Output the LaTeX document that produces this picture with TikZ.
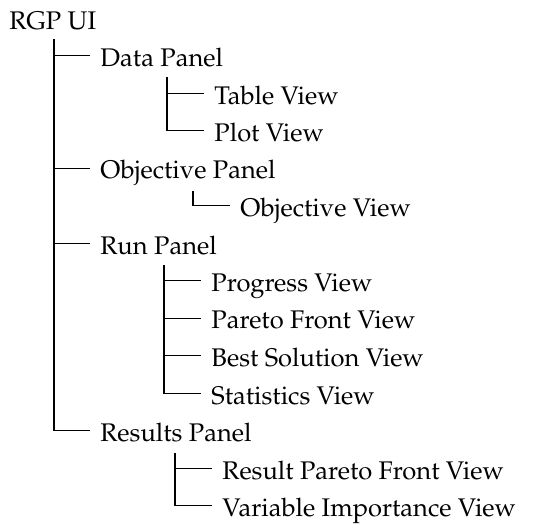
\documentclass[tikz,border=0pt]{standalone}
\usepackage[T1]{fontenc}
\usepackage{mathpazo}
\usepackage{tikz}
\tikzstyle{entry} = [anchor=base west, inner xsep=3.9pt, inner ysep=0pt, text height=0.85em, text depth=0pt, font=\fontsize{10}{12}\selectfont]
\tikzstyle{branch} = [line width=0.4pt, draw=black]

\begin{document}
\begin{tikzpicture}[x=0.392pt, y=-0.392pt]
    \useasboundingbox (0,0) rectangle (539,525);
    \node (Root) [entry] at (-1,29) {RGP UI};
    \node (DataPanel) [entry] at (90,66.5) {Data Panel};
    \node (TableView) [entry] at (204,104) {Table View};
    \node (PlotView) [entry] at (204,141.5) {Plot View};
    \node (ObjectivePanel) [entry] at (90,179) {Objective Panel};
    \node (ObjectiveView) [entry] at (230,216.5) {Objective View};
    \node (RunPanel) [entry] at (90,254) {Run Panel};
    \node (ProgressView) [entry] at (201,291.5) {Progress View};
    \node (ParetoFrontView) [entry] at (201,329) {Pareto Front View};
    \node (BestSolutionView) [entry] at (201,366.5) {Best Solution View};
    \node (StatisticsView) [entry] at (201,404) {Statistics View};
    \node (ResultsPanel) [entry] at (90,441.5) {Results Panel};
    \node (ResultParetoView) [entry] at (212,479) {Result Pareto Front View};
    \node (ImportanceView) [entry] at (212,516.5) {Variable Importance View};
    \coordinate (TrunkRoot) at (54,39);
    \coordinate (TrunkData) at (167,77);
    \coordinate (TrunkObjective) at (193,191);
    \coordinate (TrunkRun) at (164,265);
    \coordinate (TrunkResults) at (175,453);
    \draw [branch] (TrunkRoot) |- (DataPanel.west);
    \draw [branch] (TrunkRoot) |- (ObjectivePanel.west);
    \draw [branch] (TrunkRoot) |- (RunPanel.west);
    \draw [branch] (TrunkRoot) |- (ResultsPanel.west);
    \draw [branch] (TrunkData) |- (TableView.west);
    \draw [branch] (TrunkData) |- (PlotView.west);
    \draw [branch] (TrunkObjective) |- (ObjectiveView.west);
    \draw [branch] (TrunkRun) |- (ProgressView.west);
    \draw [branch] (TrunkRun) |- (ParetoFrontView.west);
    \draw [branch] (TrunkRun) |- (BestSolutionView.west);
    \draw [branch] (TrunkRun) |- (StatisticsView.west);
    \draw [branch] (TrunkResults) |- (ResultParetoView.west);
    \draw [branch] (TrunkResults) |- (ImportanceView.west);
\end{tikzpicture}
\end{document}
